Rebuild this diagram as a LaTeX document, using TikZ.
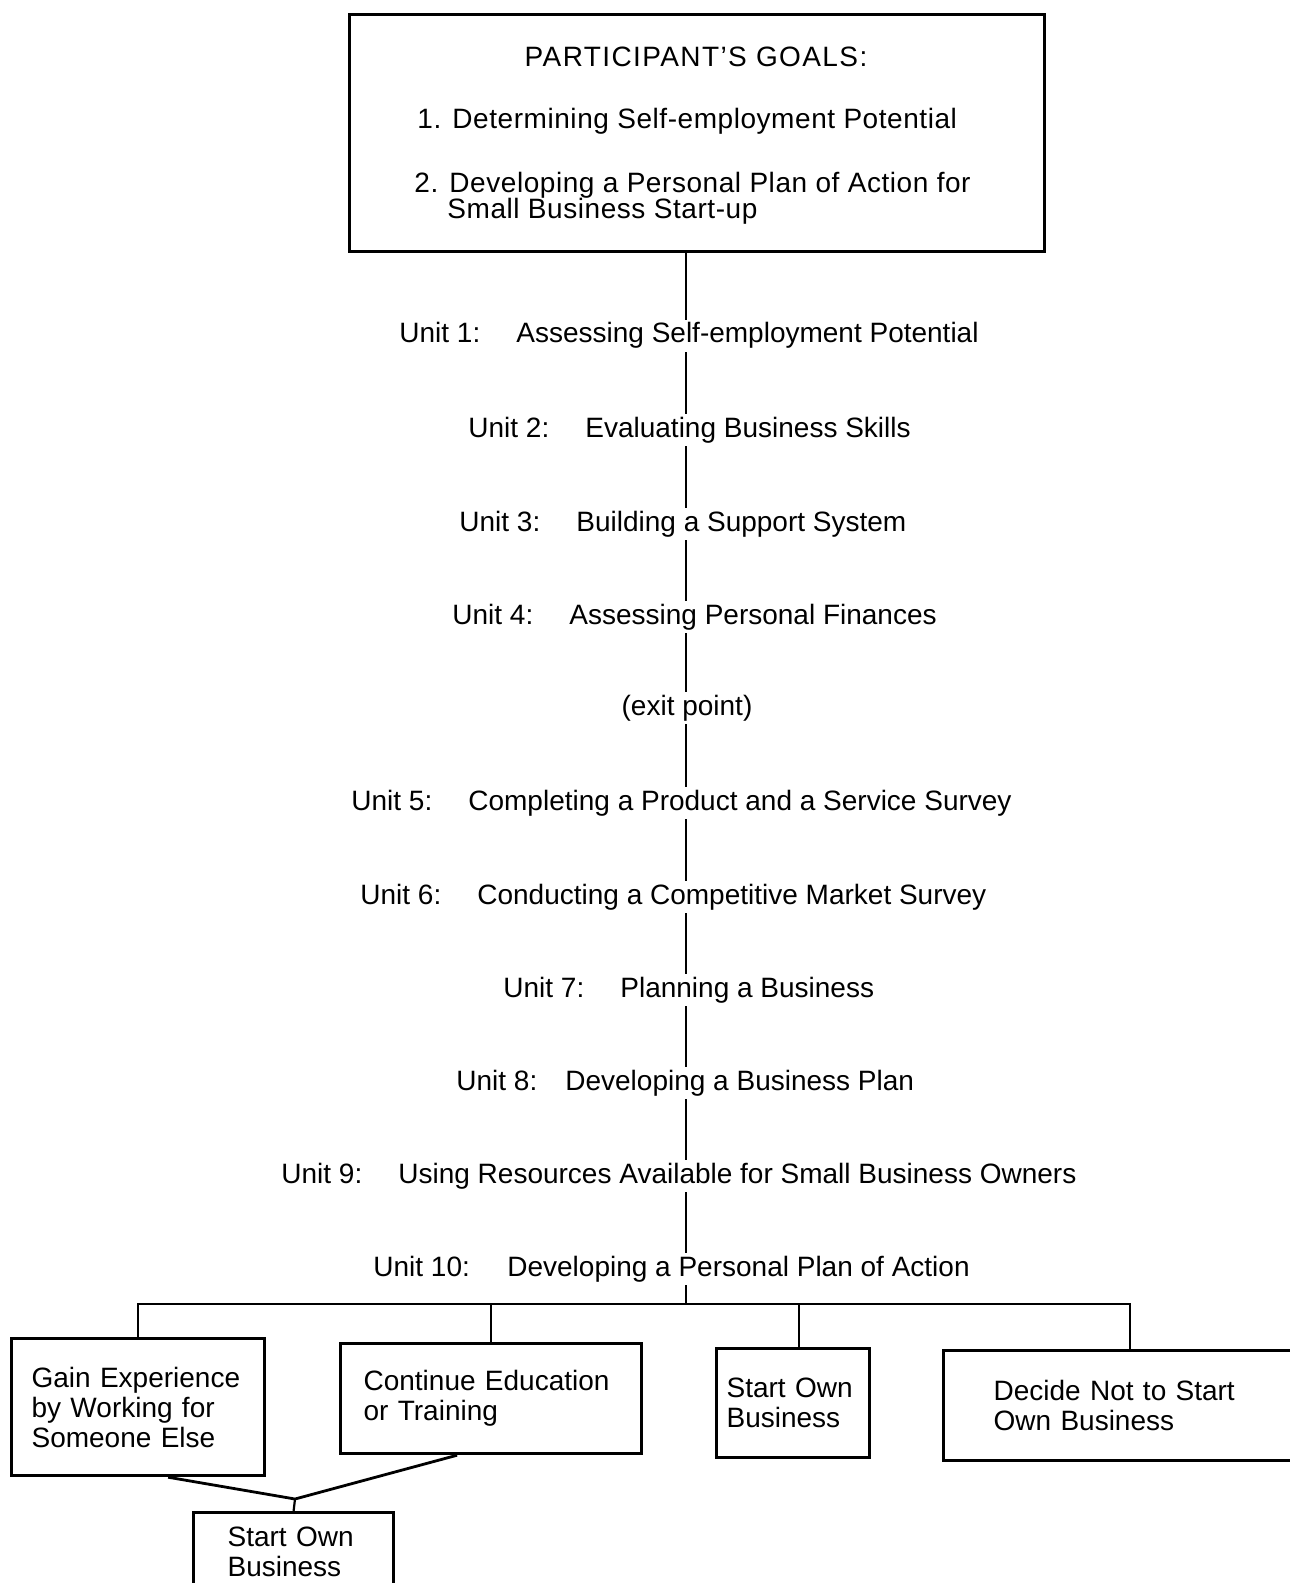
\documentclass[tikz,border=0pt]{standalone}
\usepackage{fontspec}
\setmainfont{Liberation Sans}
\newfontfamily\titlefont{Liberation Sans}[LetterSpace=5]
\newfontfamily\goalfont{Liberation Sans}[LetterSpace=2]
\newcommand{\ulab}[1]{\makebox[46pt][l]{#1}\hspace{12.5pt}}
\begin{document}
\begin{tikzpicture}[x=0.5pt,y=-0.5pt,
  txt/.style={font=\fontsize{14}{15}\selectfont, inner sep=0pt, text height=10pt, text depth=3pt},
  unit/.style={txt, anchor=west, minimum height=16pt},
  conn/.style={draw=black, line width=1.1pt},
  bigbox/.style={draw=black, line width=1.4pt, inner sep=0pt, anchor=north west},
  optbox/.style={draw=black, line width=1.6pt, anchor=north west, inner ysep=0pt,
     font=\fontsize{14}{15}\selectfont, align=left}
]
\useasboundingbox (0,0) rectangle (1289,1583);
\fill[white] (0,0) rectangle (1289,1583);

% goals box
\node[bigbox, minimum width=347.5pt, minimum height=118.5pt] (goal) at (348,13) {};
\node[txt, font=\fontsize{14}{15}\titlefont] (gt) at (696,60) {PARTICIPANT’S GOALS:};
\node[txt, anchor=west, font=\fontsize{14}{15}\goalfont] (g1) at (417,122) {1. Determining Self-employment Potential};
\node[txt, anchor=west, font=\fontsize{14}{15}\goalfont] (g2) at (414,186) {2. Developing a Personal Plan of Action for};
\node[txt, anchor=west, font=\fontsize{14}{15}\goalfont] (g3) at (447,212) {Small Business Start-up};

% units
\node[unit] (u1) at (399,336) {\ulab{Unit 1:}Assessing Self-employment Potential};
\node[unit] (u2) at (468,430) {\ulab{Unit 2:}Evaluating Business Skills};
\node[unit] (u3) at (459,524) {\ulab{Unit 3:}Building a Support System};
\node[unit] (u4) at (452,617) {\ulab{Unit 4:}Assessing Personal Finances};
\node[unit, anchor=center] (ex) at (687,708) {(exit point)};
\node[unit] (u5) at (351,803) {\ulab{Unit 5:}Completing a Product and a Service Survey};
\node[unit] (u6) at (360,897) {\ulab{Unit 6:}Conducting a Competitive Market Survey};
\node[unit] (u7) at (503,990) {\ulab{Unit 7:}Planning a Business};
\node[unit] (u8) at (456,1083) {\makebox[46pt][l]{Unit 8:}\hspace{8.5pt}Developing a Business Plan};
\node[unit] (u9) at (281,1176) {\ulab{Unit 9:}Using Resources Available for Small Business Owners};
\node[unit] (u10) at (373,1269) {\makebox[54.5pt][l]{Unit 10:}\hspace{12.5pt}Developing a Personal Plan of Action};

\coordinate (sp) at (686,0);
\draw[conn] (goal.south -| sp) -- (u1.north -| sp);
\draw[conn] (u1.south -| sp) -- (u2.north -| sp);
\draw[conn] (u2.south -| sp) -- (u3.north -| sp);
\draw[conn] (u3.south -| sp) -- (u4.north -| sp);
\draw[conn] (u4.south -| sp) -- (ex.north -| sp);
\draw[conn] (ex.south -| sp) -- (u5.north -| sp);
\draw[conn] (u5.south -| sp) -- (u6.north -| sp);
\draw[conn] (u6.south -| sp) -- (u7.north -| sp);
\draw[conn] (u7.south -| sp) -- (u8.north -| sp);
\draw[conn] (u8.south -| sp) -- (u9.north -| sp);
\draw[conn] (u9.south -| sp) -- (u10.north -| sp);

% outcome boxes
\node[optbox, minimum width=126.5pt, minimum height=68.5pt, inner xsep=10pt, text width=106.5pt] (A) at (10,1337)
  {Gain Experience\\by Working for\\Someone Else};
\node[optbox, minimum width=150.5pt, minimum height=55pt, inner xsep=11.5pt, text width=127.5pt] (B) at (339,1342)
  {Continue Education\\or Training};
\node[optbox, minimum width=76.5pt, minimum height=54.5pt, inner xsep=5pt, text width=66.5pt] (C) at (715,1347)
  {Start Own\\Business};
\node[optbox, minimum width=176.5pt, minimum height=55pt, inner xsep=25pt, text width=126.5pt] (D) at (942,1349)
  {Decide Not to Start\\Own Business};
\node[optbox, minimum width=100pt, minimum height=39pt, inner xsep=17pt, text width=66pt] (E) at (192,1511)
  {Start Own\\Business};

\coordinate (br) at (686,1304);
\draw[conn] (u10.south -| sp) -- (br);
\draw[conn] (A.north) -- (A.north |- br) -- ([xshift=5pt]D.north |- br) -- ([xshift=5pt]D.north);
\draw[conn] (B.north) -- (B.north |- br);
\draw[conn] ([xshift=3pt]C.north) -- ([xshift=3pt]C.north |- br);

\coordinate (jn) at (295,1499);
\draw[conn, line width=1.4pt] ([xshift=15pt]A.south) -- (jn) -- ([xshift=-17pt]B.south);
\draw[conn] (jn) -- (E.north);
\end{tikzpicture}
\end{document}
